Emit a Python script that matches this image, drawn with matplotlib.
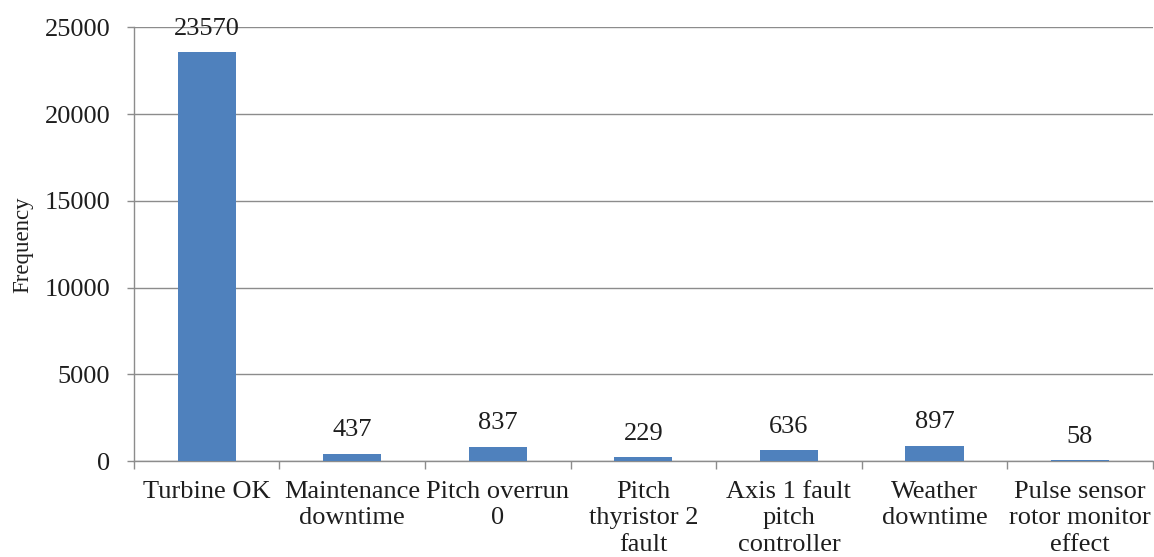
import matplotlib
matplotlib.use("Agg")
import matplotlib.pyplot as plt
import numpy as np

categories = [
    "Turbine OK",
    "Maintenance\ndowntime",
    "Pitch overrun\n0",
    "Pitch\nthyristor 2\nfault",
    "Axis 1 fault\npitch\ncontroller",
    "Weather\ndowntime",
    "Pulse sensor\nrotor monitor\neffect",
]
frequency = [23570, 437, 837, 229, 636, 897, 58]
y_ticks = [0, 5000, 10000, 15000, 20000, 25000]

plt.rcParams["font.family"] = ["Liberation Serif", "DejaVu Serif"]

fig = plt.figure(figsize=(11.54, 5.57), dpi=100)
ax = fig.add_axes([0.116, 0.172, 0.883, 0.779])

text_color = "#1e1e1e"
line_color = "#8c8c8c"

x = np.arange(len(categories))
ax.bar(x, frequency, width=0.4, color="#4F81BD", zorder=3)

for xi, v in zip(x, frequency):
    ax.annotate(f"{v}", (xi, v), xytext=(0, 9), textcoords="offset points",
                ha="center", va="bottom", fontsize=19, color=text_color)

ax.set_xlim(-0.5, len(categories) - 0.5)
ax.set_ylim(0, 25000)
ax.set_yticks(y_ticks)
ax.set_yticklabels([str(t) for t in y_ticks], fontsize=19, color=text_color)
ax.yaxis.grid(True, color=line_color, linewidth=1.0, zorder=0)

ax.set_xticks(x)
ax.set_xticklabels(categories, fontsize=19, color=text_color, linespacing=1.27)
ax.tick_params(axis="x", which="major", length=0, pad=14)
ax.set_xticks(np.arange(-0.5, len(categories)), minor=True)
ax.tick_params(axis="x", which="minor", length=6, color=line_color, width=1.0)
ax.tick_params(axis="y", length=5, color=line_color, width=1.0, pad=12)

for side in ["top", "right"]:
    ax.spines[side].set_visible(False)
for side in ["left", "bottom"]:
    ax.spines[side].set_color(line_color)
    ax.spines[side].set_linewidth(1.0)

ax.set_ylabel("Frequency", fontsize=16.5, color=text_color, labelpad=8)

fig.savefig("out.png", dpi=100)
